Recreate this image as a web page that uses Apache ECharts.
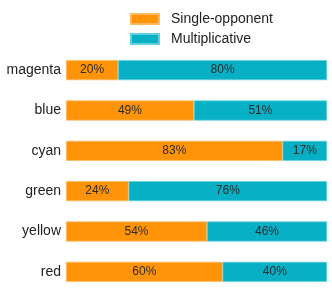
<!DOCTYPE html>
<html><head><meta charset="utf-8">
<script src="https://cdn.jsdelivr.net/npm/echarts@6/dist/echarts.min.js"></script>
<style>html,body{margin:0;padding:0;background:#fff}#c{width:332px;height:306px}</style>
</head><body><div id="c"></div>
<script>
const categories = ['magenta', 'blue', 'cyan', 'green', 'yellow', 'red'];
const singleOpponent = [20, 49, 83, 24, 54, 60];
const multiplicative = [80, 51, 17, 76, 46, 40];
const seriesNames = ['Single-opponent', 'Multiplicative'];

const chart = echarts.init(document.getElementById('c'), null, {renderer: 'canvas'});
const lbl = {show: true, position: 'inside', formatter: p => p.value + '%', color: '#2b2b2b', fontSize: 12, fontFamily: 'Liberation Sans'};
chart.setOption({
  animation: false,
  legend: {
    orient: 'vertical', left: 125, top: 7, itemWidth: 28, itemHeight: 10, itemGap: 6,
    icon: 'rect',
    textStyle: {fontSize: 14, color: '#222', fontFamily: 'Liberation Sans', padding: [0, 0, 0, 7]},
    data: seriesNames
  },
  grid: {left: 66, right: 5, top: 50, bottom: 14, containLabel: false},
  xAxis: {type: 'value', min: 0, max: 100, show: false},
  yAxis: {
    type: 'category', data: categories, inverse: true,
    axisLine: {show: false}, axisTick: {show: false},
    axisLabel: {fontSize: 14, color: '#222', margin: 5, fontFamily: 'Liberation Sans'}
  },
  series: [
    {name: seriesNames[0], type: 'bar', stack: 'a', data: singleOpponent, barWidth: 20,
     itemStyle: {color: '#FF9408', borderColor: '#FFB860', borderWidth: 0.7}, label: lbl},
    {name: seriesNames[1], type: 'bar', stack: 'a', data: multiplicative, barWidth: 20,
     itemStyle: {color: '#07B0C4', borderColor: '#60D0DC', borderWidth: 0.7}, label: lbl}
  ]
});
</script></body></html>
